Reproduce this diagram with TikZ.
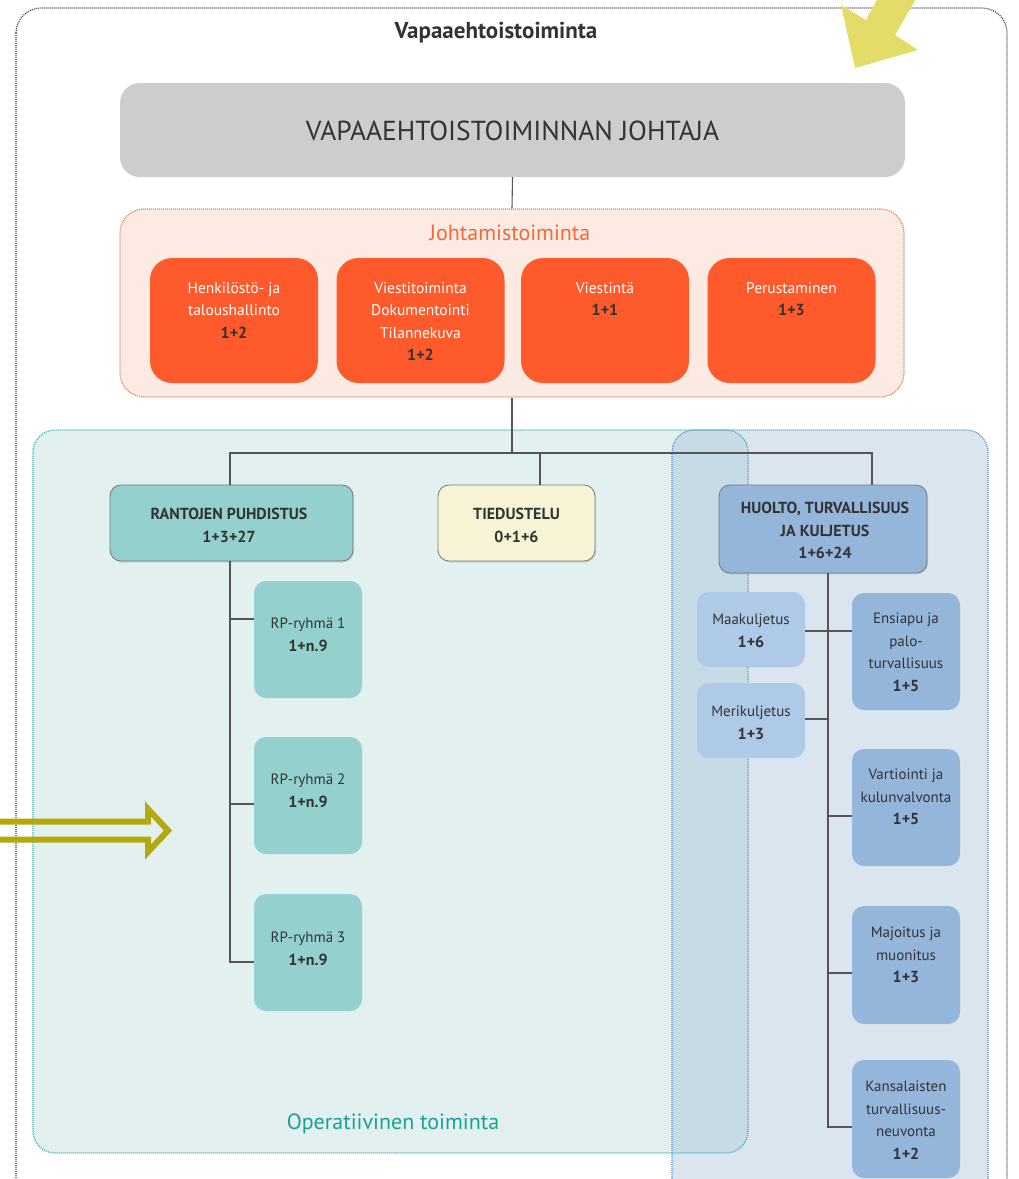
\documentclass[tikz,border=0pt]{standalone}
\usepackage{fontspec}
\setmainfont{PT Sans}
\usetikzlibrary{shadows}
\definecolor{grayBox}{HTML}{CDCDCF}
\definecolor{johtFill}{HTML}{FDEAE2}
\definecolor{johtBorder}{HTML}{F07A58}
\definecolor{orangeBox}{HTML}{FF5A2B}
\definecolor{orangeT}{HTML}{F26A3C}
\definecolor{opFill}{HTML}{E2F0F0}
\definecolor{opBorder}{HTML}{3AB0AA}
\definecolor{opText}{HTML}{17A295}
\definecolor{blueC}{HTML}{8AACD0}
\definecolor{blueBorder}{HTML}{5A90C8}
\definecolor{rantoFill}{HTML}{94D0CD}
\definecolor{tiedFill}{HTML}{F7F4D6}
\definecolor{huoltoFill}{HTML}{94B6DB}
\definecolor{lightBlue}{HTML}{AFCAE6}
\definecolor{yellowA}{HTML}{E3DC68}
\definecolor{oliveA}{HTML}{B3A80D}
\definecolor{textDark}{HTML}{333333}
\definecolor{lineGray}{HTML}{555555}
\newcommand{\numb}[1]{{\bfseries\fontsize{16}{22.5}\selectfont #1}}
\begin{document}
\begin{tikzpicture}[x=1pt,y=-1pt,
  dots/.style={line width=1.2pt, dash pattern=on 1pt off 1pt},
  conn/.style={draw=lineGray, line width=1.1pt},
  obox/.style={fill=orangeBox, rounded corners=22pt, minimum width=168pt, minimum height=125pt, inner sep=0pt},
  hbox/.style={draw=lineGray!80, line width=0.8pt, rounded corners=11pt, inner sep=0pt,
     drop shadow={shadow xshift=1pt, shadow yshift=-1.5pt, opacity=0.25}},
  sbox/.style={rounded corners=12pt, minimum width=108pt, inner sep=0pt},
  otext/.style={anchor=north, align=center, inner sep=0pt, text=white, font=\fontsize{15.5}{22.5}\selectfont},
  btext/.style={anchor=north, align=center, inner sep=0pt, text=textDark, font=\fontsize{15}{22.5}\selectfont},
  htext/.style={anchor=north, align=center, inner sep=0pt, text=textDark, font=\bfseries\fontsize{16}{22.5}\selectfont},
]
\useasboundingbox (0,0) rectangle (1019,1179);
\clip (0,0) rectangle (1019,1179);
\fill[white] (0,0) rectangle (1019,1179);

% outer frame
\draw[dots, black!75, rounded corners=25pt] (16,8) rectangle (1007,1230);
\node[font=\bfseries\fontsize{23}{26}\selectfont, text=textDark] (title) at (496,33) {Vapaaehtoistoiminta};

% yellow arrow
\fill[yellowA] (855,68) -- (841,5) -- (866,20) -- (881,-8) -- (920,-8) -- (895,35) -- (918,50) -- cycle;

% director
\node[fill=grayBox, rounded corners=20pt, minimum width=785pt, minimum height=94pt, inner sep=0pt] (dir) at (512.5,130) {};
\node[font=\fontsize{27.5}{30}\selectfont, text=textDark] (dirt) at (512.5,131) {VAPAAEHTOISTOIMINNAN JOHTAJA};

% Johtamistoiminta
\node[fill=johtFill, draw=johtBorder, dots, rounded corners=24pt, minimum width=784pt, minimum height=188pt, inner sep=0pt] (joht) at (512,303) {};
\node[font=\fontsize{22}{26}\selectfont, text=orangeT] (jotitle) at (510,233) {Johtamistoiminta};

\node[obox] (o1) at (234,320.5) {};
\node[obox] (o2) at (420.5,320.5) {};
\node[obox] (o3) at (605,320.5) {};
\node[obox] (o4) at (791.5,320.5) {};
\node[otext] (o1t) at (234,282) {Henkilöstö- ja\\taloushallinto\\\textcolor{textDark}{\numb{1+2}}};
\node[otext] (o2t) at (420.5,282) {Viestitoiminta\\Dokumentointi\\Tilannekuva\\\textcolor{textDark}{\numb{1+2}}};
\node[otext] (o3t) at (605,282) {Viestintä\\\textcolor{textDark}{\numb{1+1}}};
\node[otext] (o4t) at (791.5,282) {Perustaminen\\\textcolor{textDark}{\numb{1+3}}};

% regions
\fill[opFill, rounded corners=22pt] (33,430) rectangle (748,1153);
\fill[blueC, fill opacity=0.3, rounded corners=22pt] (672,430) rectangle (988,1240);
\draw[opBorder, dots, rounded corners=22pt] (33,430) rectangle (748,1153);
\draw[blueBorder, dots, rounded corners=22pt] (672,430) rectangle (988,1240);
\node[font=\fontsize{22}{26}\selectfont, text=opText] (optitle) at (393,1124) {Operatiivinen toiminta};

% olive arrow
\draw[oliveA, line width=6pt, line join=miter] (-10,821.5) -- (148,821.5) -- (148,809) -- (168,830.5) -- (148,852) -- (148,839.5) -- (-10,839.5);

% top connectors
\draw[conn] (dir.south) -- (joht.north);
\coordinate (hub) at (512,453);
\coordinate (tiedtop) at (540,485);
\coordinate (huoltotop) at (872,485);

% main units
\node[hbox, fill=rantoFill, minimum width=243pt, minimum height=76pt] (ranto) at (231.5,523) {};
\node[hbox, fill=tiedFill, minimum width=157pt, minimum height=76pt] (tied) at (516.5,523) {};
\node[hbox, fill=huoltoFill, minimum width=208pt, minimum height=88pt] (huolto) at (823,529) {};
\node[htext] (rantot) at (229,508) {RANTOJEN PUHDISTUS\\1+3+27};
\node[htext] (tiedt) at (516.5,508) {TIEDUSTELU\\0+1+6};
\node[htext] (huoltot) at (825,502) {HUOLTO, TURVALLISUUS\\JA KULJETUS\\1+6+24};

\draw[conn] (joht.south) -- (hub);
\draw[conn] (230,485) -- (230,453) -- (huoltotop |- hub) -- (huoltotop);
\draw[conn] (tiedtop) -- (tiedtop |- hub);

% RP groups
\node[sbox, fill=rantoFill, minimum height=117pt] (rp1) at (308,639.5) {};
\node[sbox, fill=rantoFill, minimum height=117pt] (rp2) at (308,795.5) {};
\node[sbox, fill=rantoFill, minimum height=117pt] (rp3) at (308,952.5) {};
\node[btext] (rp1t) at (308,618) {RP-ryhmä 1\\\numb{1+n.9}};
\node[btext] (rp2t) at (308,774) {RP-ryhmä 2\\\numb{1+n.9}};
\node[btext] (rp3t) at (308,932) {RP-ryhmä 3\\\numb{1+n.9}};
\draw[conn] (ranto.south -| 230,0) -- (230,962) -- (rp3.west |- 230,962);
\draw[conn] (230,619) -- (rp1.west |- 230,619);
\draw[conn] (230,804) -- (rp2.west |- 230,804);

% Huolto groups
\node[sbox, fill=lightBlue, minimum height=75pt] (maa) at (751,629.5) {};
\node[sbox, fill=lightBlue, minimum height=75pt] (meri) at (751,720.5) {};
\node[sbox, fill=huoltoFill, minimum height=117pt] (ens) at (906,651.5) {};
\node[sbox, fill=huoltoFill, minimum height=117pt] (vart) at (906,807.5) {};
\node[sbox, fill=huoltoFill, minimum height=118pt] (maj) at (906,965) {};
\node[sbox, fill=huoltoFill, minimum height=118pt] (kans) at (906,1119) {};
\node[btext] (maat) at (751,614) {Maakuljetus\\\numb{1+6}};
\node[btext] (merit) at (751,706) {Merikuljetus\\\numb{1+3}};
\node[btext] (enst) at (906,613) {Ensiapu ja\\palo-\\turvallisuus\\\numb{1+5}};
\node[btext] (vartt) at (906,769) {Vartiointi ja\\kulunvalvonta\\\numb{1+5}};
\node[btext] (majt) at (906,927) {Majoitus ja\\muonitus\\\numb{1+3}};
\node[btext] (kanst) at (906,1081) {Kansalaisten\\turvallisuus-\\neuvonta\\\numb{1+2}};

\draw[conn] (huolto.south -| 828,0) -- (828,1127) -- (kans.west |- 828,1127);
\draw[conn] (maa.east |- 0,631) -- (ens.west |- 0,631);
\draw[conn] (meri.east |- 0,719) -- (828,719);
\draw[conn] (828,816) -- (vart.west |- 0,816);
\draw[conn] (828,973) -- (maj.west |- 0,973);
\end{tikzpicture}
\end{document}
